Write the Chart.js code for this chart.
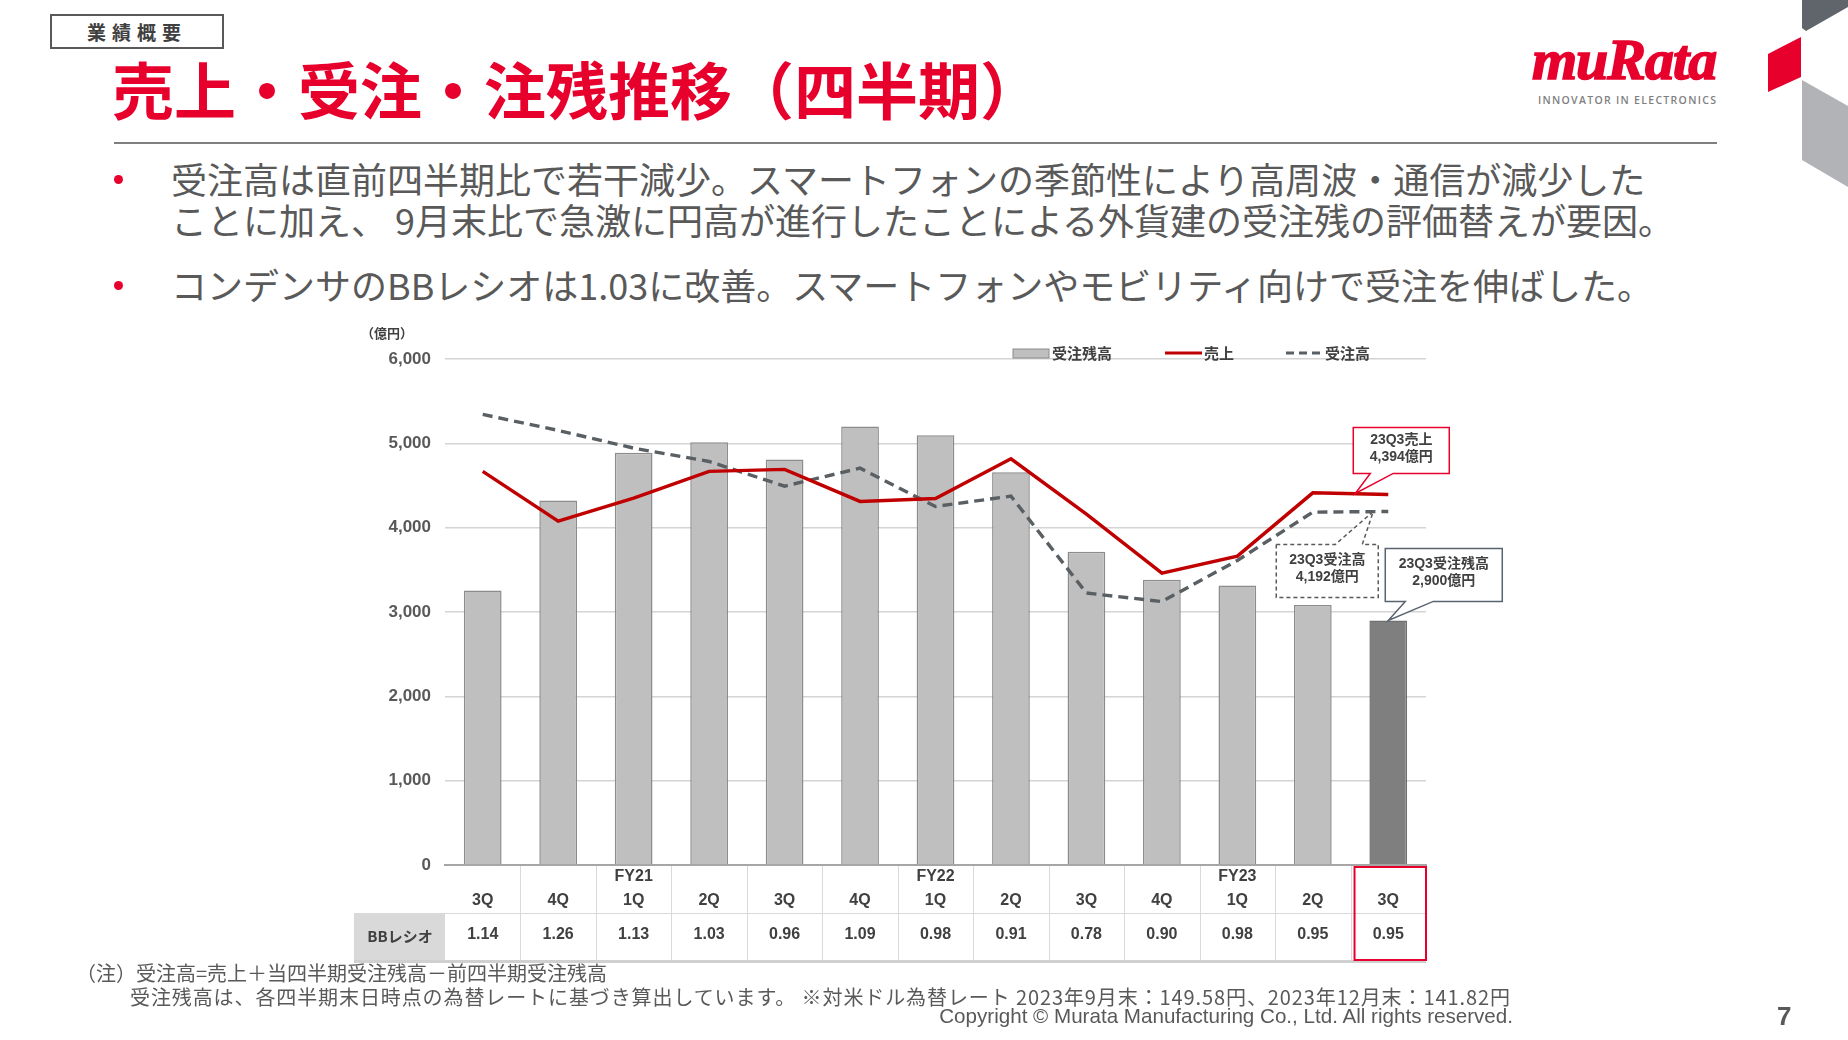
<!DOCTYPE html>
<html lang="ja">
<head>
<meta charset="utf-8">
<title>売上・受注・注残推移（四半期）</title>
<script src="https://cdn.jsdelivr.net/npm/chart.js@4.4.1/dist/chart.umd.min.js"></script>
<style>
  html, body { margin: 0; padding: 0; background: #fff; }
  body {
    width: 1848px; height: 1040px; position: relative; overflow: hidden;
    font-family: "Noto Sans CJK JP", sans-serif; color: #595959;
  }
  .abs { position: absolute; white-space: nowrap; }
  .tag {
    left: 50px; top: 14px; width: 170px; height: 31px;
    border: 2px solid #595959; text-align: center;
    font-size: 19px; font-weight: 700; line-height: 31px; letter-spacing: 6px; color: #404040;
  }
  .title { left: 112px; top: 57px; font-size: 62px; line-height: 62px; font-weight: 700; color: #e8002d; }
  .rule { left: 114px; top: 142px; width: 1603px; height: 2px; background: #7f7f7f; }
  .logo {
    left: 1532px; top: 28px; font-family: "Liberation Serif", serif; font-style: italic;
    font-weight: 700; font-size: 58px; line-height: 64px; color: #e8002d; letter-spacing: -1px;
    -webkit-text-stroke: 1.6px #e8002d;
  }
  .tagline {
    left: 1538px; top: 93px; font-family: "Open Sans", sans-serif; font-weight: 600;
    font-size: 10.5px; letter-spacing: 1.3px; color: #7f7f7f;
  }
  .deco { position: absolute; left: 0; top: 0; width: 1848px; height: 1040px; }
  .bullet { font-size: 36px; line-height: 41px; color: #595959; left: 171px; }
  .dot { width: 9px; height: 9px; border-radius: 50%; background: #e8002d; left: 114px; }
  .note { font-size: 20px; line-height: 24px; color: #595959; }
  .copy { right: 335px; top: 1004px; font-family: "Liberation Sans", sans-serif; font-size: 20.6px; line-height: 24px; color: #595959; }
  .page { left: 1777px; top: 1002px; font-family: "Liberation Sans", sans-serif; font-weight: 700; font-size: 26px; line-height: 28px; color: #595959; }
  #wrap { position: absolute; left: 330px; top: 312px; width: 1200px; height: 670px; }
</style>
</head>
<body>
<div class="deco" style="background:#5f656b; clip-path: polygon(1802px 0, 1848px 0, 1848px 7px, 1806px 31px, 1802px 28px);"></div>
<div class="deco" style="background:#e8002d; clip-path: polygon(1801px 37px, 1768px 54px, 1768px 92px, 1801px 77px);"></div>
<div class="deco" style="background:#b1b3b6; clip-path: polygon(1802px 80px, 1848px 106px, 1848px 187px, 1802px 160px);"></div>

<div class="abs tag">業績概要</div>
<div class="abs title">売上・受注・注残推移（四半期）</div>
<div class="abs logo">muRata</div>
<div class="abs tagline">INNOVATOR IN ELECTRONICS</div>
<div class="abs rule"></div>

<div class="abs dot" style="top:175px;"></div>
<div class="abs bullet" style="top:158px;">受注高は直前四半期比で若干減少。スマートフォンの季節性により高周波・通信が減少した</div>
<div class="abs bullet" style="top:199px;">ことに加え、 9月末比で急激に円高が進行したことによる外貨建の受注残の評価替えが要因。</div>
<div class="abs dot" style="top:281px;"></div>
<div class="abs bullet" style="top:264px;">コンデンサのBBレシオは1.03に改善。スマートフォンやモビリティ向けで受注を伸ばした。</div>

<div id="wrap"><canvas id="chart"></canvas></div>

<div class="abs note" style="left:76px; top:961px;">（注）受注高=売上＋当四半期受注残高－前四半期受注残高</div>
<div class="abs note" style="left:130px; top:985px; letter-spacing: 0.9px;">受注残高は、各四半期末日時点の為替レートに基づき算出しています。 ※対米ドル為替レート 2023年9月末：149.58円、2023年12月末：141.82円</div>
<div class="abs copy">Copyright © Murata Manufacturing Co., Ltd. All rights reserved.</div>
<div class="abs page">7</div>

<script>
// ------------------------------------------------------------
// データ（億円）
// ------------------------------------------------------------
const fiscalYears = ["", "", "FY21", "", "", "", "FY22", "", "", "", "FY23", "", ""];
const quarters = ["3Q", "4Q", "1Q", "2Q", "3Q", "4Q", "1Q", "2Q", "3Q", "4Q", "1Q", "2Q", "3Q"];
const backlog = [3255, 4323, 4887, 5014, 4809, 5200, 5097, 4658, 3715, 3381, 3314, 3084, 2900];
const sales = [4667, 4077, 4350, 4667, 4691, 4311, 4346, 4816, 4160, 3461, 3662, 4413, 4394];
const orders = [5343, 5153, 4943, 4785, 4492, 4706, 4251, 4374, 3225, 3124, 3611, 4184, 4192];
const bbRatio = ["1.14", "1.26", "1.13", "1.03", "0.96", "1.09", "0.98", "0.91", "0.78", "0.90", "0.98", "0.95", "0.95"];
const yTicks = [0, 1000, 2000, 3000, 4000, 5000, 6000];

const seriesNames = { backlog: "受注残高", sales: "売上", orders: "受注高" };

const RED = "#c00000";
const DASH = "#595f62";
const TEXT = "#404040";
const JP = '"Noto Sans CJK JP", sans-serif';
const NUM = '"Liberation Sans", "Noto Sans CJK JP", sans-serif';

Chart.defaults.font.family = NUM;

const fmt = v => v.toLocaleString("en-US");

// ------------------------------------------------------------
// 吹き出し
// ------------------------------------------------------------
function callout(ctx, box, tail, tip, style, lines) {
  ctx.save();
  ctx.beginPath();
  ctx.moveTo(box.l, box.t);
  if (tail.side === "top") {
    ctx.lineTo(tail.x1, box.t);
    ctx.lineTo(tip.x, tip.y);
    ctx.lineTo(tail.x2, box.t);
  }
  ctx.lineTo(box.r, box.t);
  ctx.lineTo(box.r, box.b);
  if (tail.side === "bottom") {
    ctx.lineTo(tail.x2, box.b);
    ctx.lineTo(tip.x, tip.y);
    ctx.lineTo(tail.x1, box.b);
  }
  ctx.lineTo(box.l, box.b);
  ctx.closePath();
  ctx.fillStyle = "#fff";
  ctx.fill();
  ctx.setLineDash(style.dash || []);
  ctx.lineWidth = style.width;
  ctx.strokeStyle = style.color;
  ctx.stroke();
  ctx.setLineDash([]);

  ctx.fillStyle = TEXT;
  ctx.font = "bold 14px " + NUM;
  ctx.textAlign = "center";
  ctx.textBaseline = "middle";
  const cx = (box.l + box.r) / 2;
  const cy = (box.t + box.b) / 2 - 2;
  ctx.fillText(lines[0], cx, cy - 8.5);
  ctx.fillText(lines[1], cx, cy + 8.5);
  ctx.restore();
}

// ------------------------------------------------------------
// 凡例・表・注記
// ------------------------------------------------------------
const decorPlugin = {
  id: "decor",
  afterDraw(chart) {
    const { ctx, chartArea: a } = chart;
    const x = chart.scales.x, x2 = chart.scales.x2, y = chart.scales.y;
    const step = x.getPixelForValue(1) - x.getPixelForValue(0);
    const last = quarters.length - 1;
    const rowTop = a.bottom, rowMid = x.bottom, rowBot = x2.bottom;

    ctx.save();

    // 単位
    ctx.fillStyle = TEXT;
    ctx.font = "bold 13px " + JP;
    ctx.textAlign = "left";
    ctx.textBaseline = "middle";
    ctx.fillText("（億円）", a.left - 84, a.top - 26);

    // 凡例
    const ly = a.top - 6;
    ctx.fillStyle = "#bfbfbf";
    ctx.fillRect(a.right - 413, ly - 4, 36, 9);
    ctx.strokeStyle = "#8c8c8c";
    ctx.lineWidth = 1;
    ctx.strokeRect(a.right - 413, ly - 4, 36, 9);

    ctx.lineWidth = 3;
    ctx.strokeStyle = RED;
    ctx.beginPath();
    ctx.moveTo(a.right - 261, ly);
    ctx.lineTo(a.right - 224, ly);
    ctx.stroke();

    ctx.strokeStyle = DASH;
    ctx.setLineDash([8, 5]);
    ctx.beginPath();
    ctx.moveTo(a.right - 140, ly);
    ctx.lineTo(a.right - 106, ly);
    ctx.stroke();
    ctx.setLineDash([]);

    ctx.fillStyle = TEXT;
    ctx.font = "bold 15px " + JP;
    ctx.fillText(seriesNames.backlog, a.right - 374, ly);
    ctx.fillText(seriesNames.sales, a.right - 222, ly);
    ctx.fillText(seriesNames.orders, a.right - 101, ly);

    // 表の罫線
    ctx.strokeStyle = "#d9d9d9";
    ctx.lineWidth = 1;
    for (let i = 1; i < quarters.length; i++) {
      const bx = Math.round(x.getPixelForValue(i) - step / 2) + 0.5;
      ctx.beginPath();
      ctx.moveTo(bx, rowTop + 1);
      ctx.lineTo(bx, rowBot);
      ctx.stroke();
    }
    ctx.beginPath();
    ctx.moveTo(a.left - 91, rowMid + 0.5);
    ctx.lineTo(a.right, rowMid + 0.5);
    ctx.stroke();

    // BBレシオ見出しセル
    ctx.fillStyle = "#d9d9d9";
    ctx.fillRect(a.left - 91, rowMid, 91, rowBot - rowMid);
    ctx.fillStyle = TEXT;
    ctx.font = "bold 15px " + JP;
    ctx.textAlign = "center";
    ctx.fillText("BBレシオ", a.left - 45, (rowMid + rowBot) / 2);

    ctx.strokeStyle = "#d0d0d0";
    ctx.lineWidth = 3;
    ctx.beginPath();
    ctx.moveTo(a.left - 91, rowBot + 1.5);
    ctx.lineTo(a.right, rowBot + 1.5);
    ctx.stroke();

    // 最新四半期の強調枠
    const lx = x.getPixelForValue(last);
    ctx.strokeStyle = "#e8002d";
    ctx.lineWidth = 2;
    ctx.strokeRect(lx - step / 2 + 4, rowTop + 2, step - 4, rowBot - rowTop - 2);
    ctx.restore();

    // 吹き出し
    const yS = y.getPixelForValue(sales[last]);
    const yO = y.getPixelForValue(orders[last]);
    const yB = y.getPixelForValue(backlog[last]);

    callout(ctx,
      { l: lx - 35, r: lx + 61, t: yS - 67, b: yS - 21 },
      { side: "bottom", x1: lx - 18, x2: lx + 5 },
      { x: lx - 33, y: yS - 1 },
      { color: "#e8002d", width: 1.5 },
      ["23Q3" + seriesNames.sales, fmt(sales[last]) + "億円"]);

    callout(ctx,
      { l: lx - 112, r: lx - 10, t: yO + 33, b: yO + 86 },
      { side: "top", x1: lx - 53, x2: lx - 26 },
      { x: lx - 15, y: yO },
      { color: "#595959", width: 1.5, dash: [4, 3] },
      ["23Q3" + seriesNames.orders, fmt(orders[last]) + "億円"]);

    callout(ctx,
      { l: lx - 3, r: lx + 114, t: yB - 72, b: yB - 19 },
      { side: "bottom", x1: lx + 17, x2: lx + 45 },
      { x: lx, y: yB },
      { color: "#5a6470", width: 1.5 },
      ["23Q3" + seriesNames.backlog, fmt(backlog[last]) + "億円"]);
  }
};

// ------------------------------------------------------------
// グラフ
// ------------------------------------------------------------
new Chart(document.getElementById("chart"), {
  type: "bar",
  data: {
    labels: quarters.map((q, i) => [fiscalYears[i], q]),
    datasets: [
      {
        type: "line",
        label: seriesNames.sales,
        data: sales,
        borderColor: RED,
        borderWidth: 3.4,
        pointRadius: 0,
        tension: 0,
        order: 1
      },
      {
        type: "line",
        label: seriesNames.orders,
        data: orders,
        borderColor: DASH,
        borderWidth: 3.4,
        borderDash: [10, 6],
        pointRadius: 0,
        tension: 0,
        order: 2
      },
      {
        label: seriesNames.backlog,
        data: backlog,
        backgroundColor: c => c.dataIndex === backlog.length - 1 ? "#7f7f7f" : "#bfbfbf",
        borderColor: c => c.dataIndex === backlog.length - 1 ? "#6f6f6f" : "#8c8c8c",
        borderWidth: 1.5,
        categoryPercentage: 1,
        barPercentage: 0.5,
        order: 3
      }
    ]
  },
  options: {
    responsive: true,
    maintainAspectRatio: false,
    animation: false,
    layout: { padding: { top: 47, right: 104, bottom: 22, left: 0 } },
    plugins: {
      legend: { display: false },
      tooltip: { enabled: false }
    },
    scales: {
      x: {
        position: "bottom",
        weight: 0,
        offset: true,
        grid: { display: false, drawTicks: false },
        border: { display: true, color: "#a6a6a6", width: 2 },
        ticks: {
          color: TEXT,
          font: { size: 16, weight: "bold", lineHeight: 1.5 },
          padding: 0,
          autoSkip: false,
          maxRotation: 0
        },
        afterFit: s => { s.height = 48; }
      },
      x2: {
        type: "category",
        position: "bottom",
        weight: 1,
        labels: bbRatio,
        offset: true,
        grid: { display: false, drawTicks: false },
        border: { display: false },
        ticks: {
          color: TEXT,
          font: { size: 16, weight: "bold", lineHeight: 1.5 },
          padding: 10,
          autoSkip: false,
          maxRotation: 0
        },
        afterFit: s => { s.height = 47; }
      },
      y: {
        min: 0,
        max: 6000,
        afterBuildTicks: s => { s.ticks = yTicks.map(v => ({ value: v })); },
        grid: { color: "#d4d4d4", lineWidth: 1.5, drawTicks: false },
        border: { display: false },
        ticks: {
          color: "#595959",
          font: { size: 17, weight: "bold" },
          padding: 14,
          callback: v => fmt(v)
        },
        afterFit: s => { s.width = 115; }
      }
    }
  },
  plugins: [decorPlugin]
});
</script>
</body>
</html>
